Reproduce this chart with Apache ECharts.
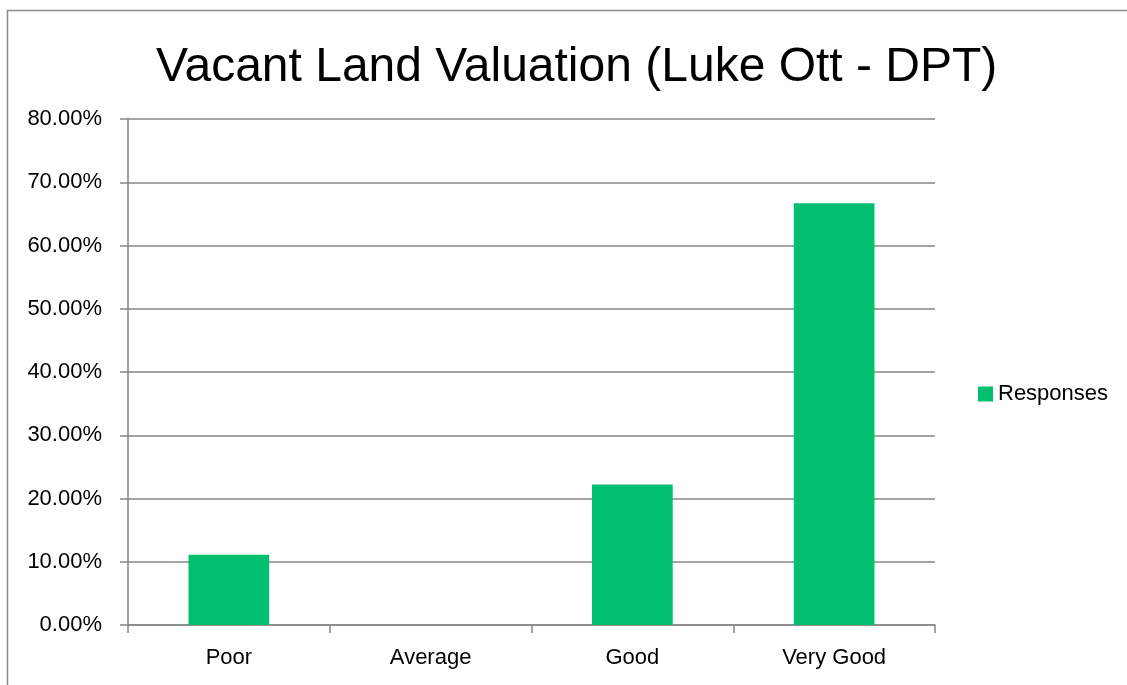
<!DOCTYPE html>
<html>
<head>
<meta charset="utf-8">
<script src="https://cdn.jsdelivr.net/npm/echarts@6/dist/echarts.min.js"></script>
<style>
  html, body { margin: 0; padding: 0; background: #fff; }
  #chart { width: 1127px; height: 685px; }
</style>
</head>
<body>
<div id="chart"></div>
<script>
// chart data
var categories = ['Poor', 'Average', 'Good', 'Very Good'];
var responses = [0.1111, 0, 0.2222, 0.6667];
var seriesName = 'Responses';
var titleText = 'Vacant Land Valuation (Luke Ott - DPT)';

var axisGray = '#868686';
var barGreen = '#00BF6F';
var labelFont = '"Liberation Sans", Arial, sans-serif';

var chart = echarts.init(document.getElementById('chart'));

var option = {
    backgroundColor: '#fff',
    animation: false,
    graphic: [{
        // outer chart border (right/bottom edges clipped off)
        type: 'rect',
        shape: { x: 7.5, y: 10.5, width: 1200, height: 800 },
        style: { fill: null, stroke: '#8c8c8c', lineWidth: 1.5 },
        silent: true
    }],
    title: {
        text: titleText,
        left: 151,
        top: 39,
        textStyle: {
            fontFamily: labelFont,
            fontSize: 48,
            fontWeight: 'normal',
            color: '#000'
        }
    },
    legend: {
        orient: 'vertical',
        left: 973,
        top: 378,
        itemWidth: 15,
        itemHeight: 15,
        itemGap: 6,
        icon: 'rect',
        data: [seriesName],
        textStyle: {
            fontFamily: labelFont,
            fontSize: 22,
            color: '#000'
        }
    },
    grid: {
        left: 128,
        right: 192,
        top: 119,
        bottom: 60
    },
    xAxis: {
        type: 'category',
        data: categories,
        boundaryGap: true,
        axisLine: { lineStyle: { color: axisGray, width: 1.5 } },
        axisTick: { show: true, length: 8, alignWithLabel: false, lineStyle: { color: axisGray, width: 1.5 } },
        axisLabel: {
            margin: 22,
            fontFamily: labelFont,
            fontSize: 22,
            color: '#000'
        }
    },
    yAxis: {
        type: 'value',
        min: 0,
        max: 0.8,
        interval: 0.1,
        axisLine: { show: true, lineStyle: { color: axisGray, width: 1.5 } },
        axisTick: { show: true, length: 8, lineStyle: { color: axisGray, width: 1.5 } },
        splitLine: { show: true, lineStyle: { color: axisGray, width: 1.5 } },
        axisLabel: {
            margin: 26,
            fontFamily: labelFont,
            fontSize: 22,
            color: '#000',
            formatter: function (v) {
                return (v * 100).toFixed(2) + '%';
            }
        }
    },
    series: [{
        name: seriesName,
        type: 'bar',
        data: responses,
        barWidth: '40%',
        itemStyle: { color: barGreen }
    }]
};

chart.setOption(option);
</script>
</body>
</html>
